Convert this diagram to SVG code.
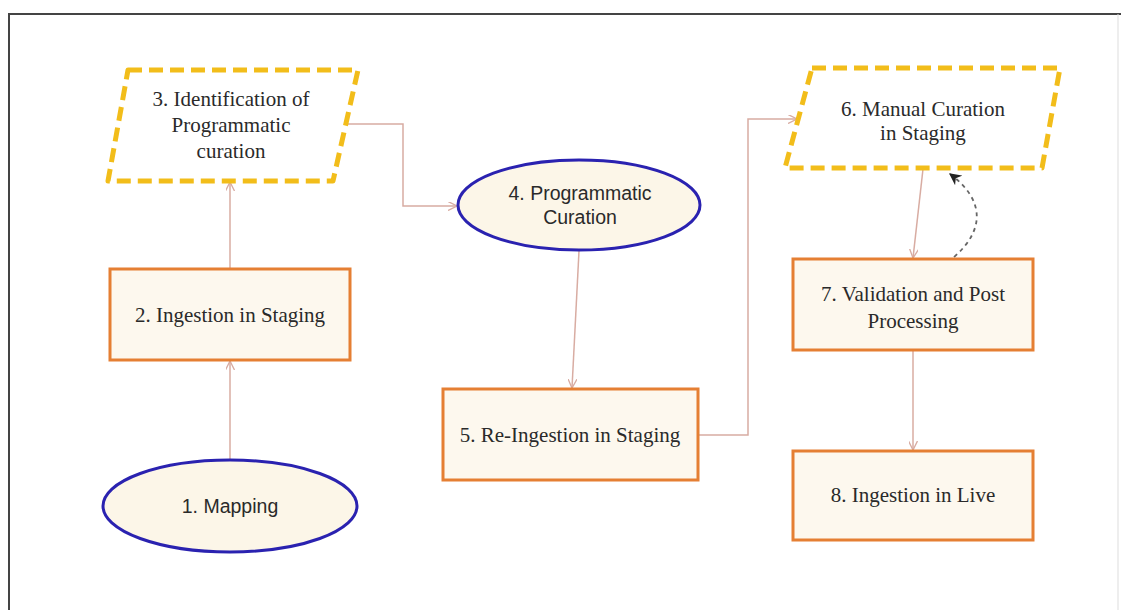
<svg xmlns="http://www.w3.org/2000/svg" width="1121" height="610" viewBox="0 0 1121 610">
<style>
.serif{font-family:"Liberation Serif","DejaVu Serif",serif;font-size:21px;fill:#2a2a2a;text-anchor:middle}
.sans{font-family:"Liberation Sans",Arial,sans-serif;font-size:19.5px;fill:#2a2a2a;text-anchor:middle}
.box{fill:#fdf8ee;stroke:#e57f33;stroke-width:3}
.ell{fill:#fcf6e8;stroke:#2a22b0;stroke-width:3}
.para{fill:#fff;stroke:#f2bd1a;stroke-width:5;stroke-dasharray:14 7;stroke-linejoin:round}
.conn{fill:none;stroke:#d8aca2;stroke-width:1.5}
.dash{fill:none;stroke:#666;stroke-width:1.8;stroke-dasharray:4 4}
</style>
<defs>
<marker id="arr" viewBox="0 0 10 10" refX="10" refY="5" markerWidth="9" markerHeight="9" orient="auto" markerUnits="userSpaceOnUse">
<path d="M0,0 L10,5 L0,10" fill="none" stroke="#d8aca2" stroke-width="1.5"/>
</marker>
<marker id="arrd" viewBox="0 0 10 10" refX="9" refY="5" markerWidth="12" markerHeight="12" orient="auto" markerUnits="userSpaceOnUse">
<path d="M0,0 L10,5 L0,10 L3,5 Z" fill="#222"/>
</marker>
</defs>
<rect x="0" y="0" width="1121" height="610" fill="#fff"/>
<path d="M9,610 L9,14 L1121,14" fill="none" stroke="#444" stroke-width="2"/>
<path d="M1118,14 L1118,610" fill="none" stroke="#ddd" stroke-width="1"/>
<g id="connectors">
<path class="conn" d="M230,460 L230,361" marker-end="url(#arr)"/>
<path class="conn" d="M230,268 L230,182" marker-end="url(#arr)"/>
<path class="conn" d="M347,124 L403,124 L403,206 L457,206" marker-end="url(#arr)"/>
<path class="conn" d="M579,251 L572,388" marker-end="url(#arr)"/>
<path class="conn" d="M699,435 L748,435 L748,119 L797,119" marker-end="url(#arr)"/>
<path class="conn" d="M923,169 L913,258" marker-end="url(#arr)"/>
<path class="conn" d="M913,351 L913,450" marker-end="url(#arr)"/>
<path class="dash" d="M954,257 C985,230 985,200 950,174" marker-end="url(#arrd)"/>
</g>
<g id="node1">
<ellipse class="ell" cx="230" cy="506" rx="127" ry="46"/>
<text class="sans" x="230" y="513">1. Mapping</text>
</g>
<g id="node2">
<rect class="box" x="110" y="269" width="240" height="91"/>
<text class="serif" x="230" y="322">2. Ingestion in Staging</text>
</g>
<g id="node3">
<path class="para" d="M128,70 L358,70 L333,181 L108,181 Z"/>
<text class="serif" x="231" y="106">3. Identification of</text>
<text class="serif" x="231" y="132">Programmatic</text>
<text class="serif" x="231" y="158">curation</text>
</g>
<g id="node4">
<ellipse class="ell" cx="579" cy="205" rx="121" ry="45"/>
<text class="sans" x="580" y="200">4. Programmatic</text>
<text class="sans" x="580" y="224">Curation</text>
</g>
<g id="node5">
<rect class="box" x="443" y="389" width="255" height="91"/>
<text class="serif" x="570" y="442">5. Re-Ingestion in Staging</text>
</g>
<g id="node6">
<path class="para" d="M812,68 L1060,68 L1042,168 L785,168 Z"/>
<text class="serif" x="923" y="116">6. Manual Curation</text>
<text class="serif" x="923" y="140">in Staging</text>
</g>
<g id="node7">
<rect class="box" x="793" y="259" width="240" height="91"/>
<text class="serif" x="913" y="301">7. Validation and Post</text>
<text class="serif" x="913" y="328">Processing</text>
</g>
<g id="node8">
<rect class="box" x="793" y="451" width="240" height="89"/>
<text class="serif" x="913" y="502">8. Ingestion in Live</text>
</g>
</svg>
